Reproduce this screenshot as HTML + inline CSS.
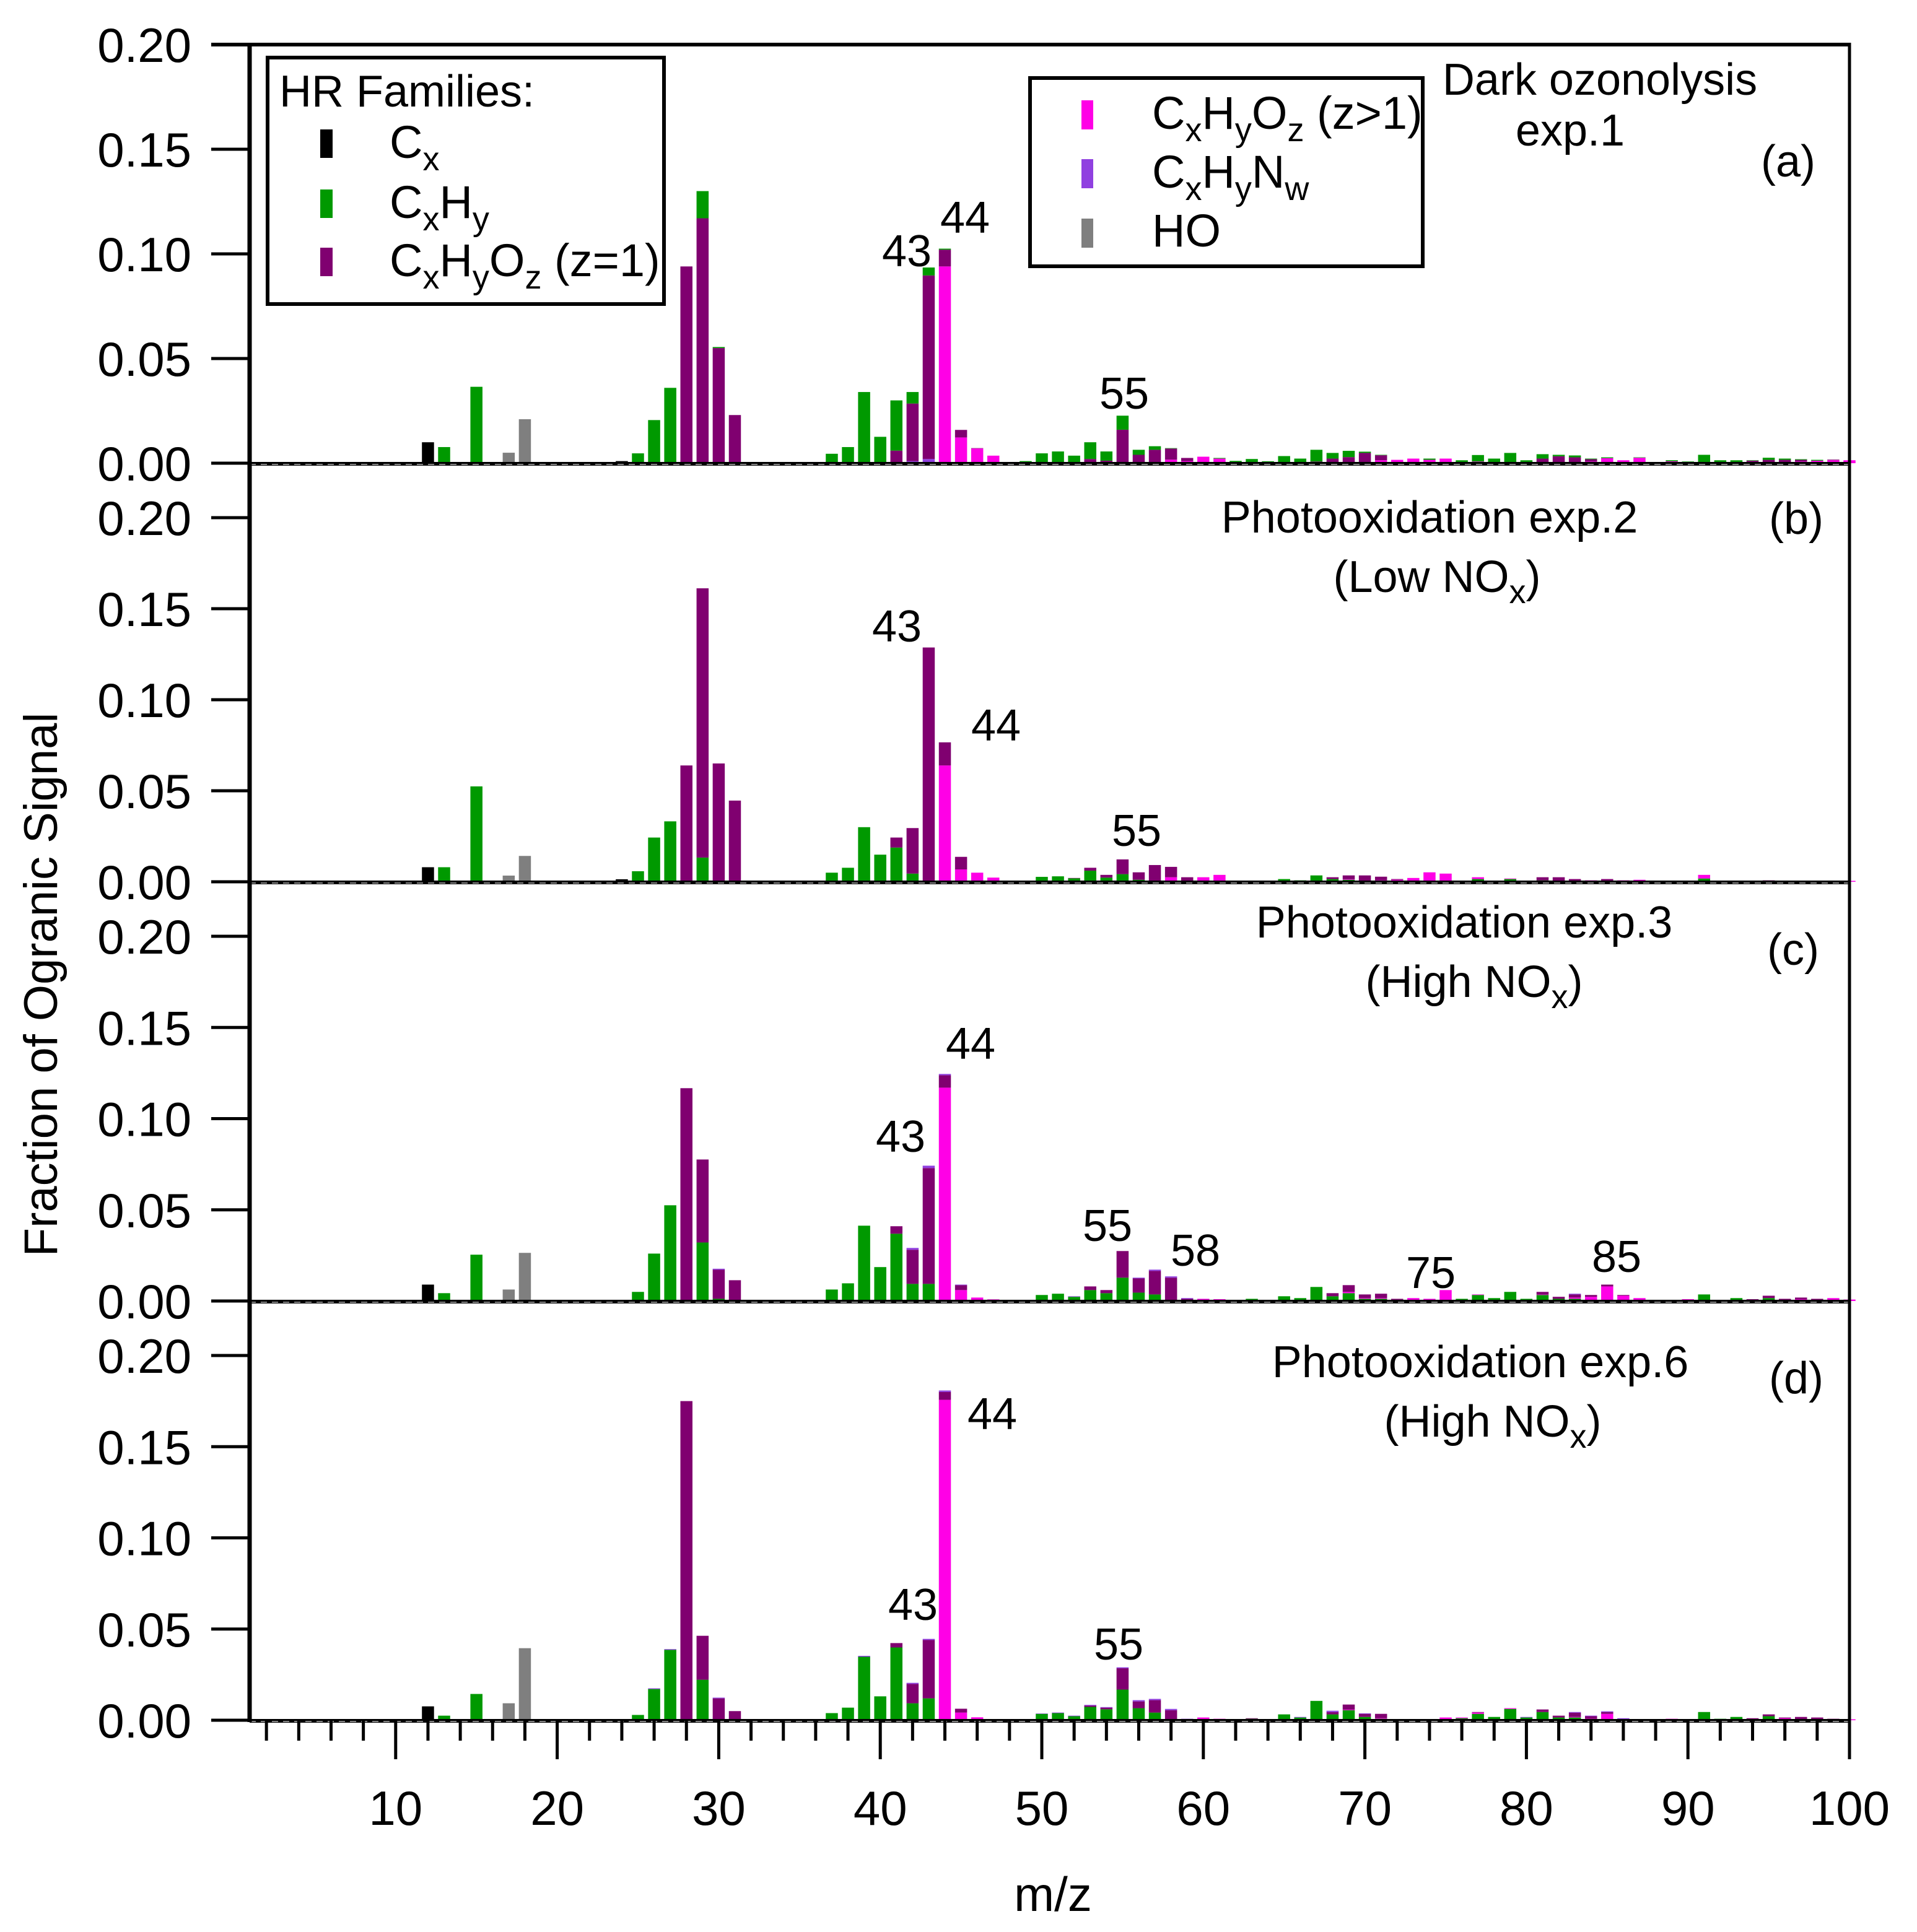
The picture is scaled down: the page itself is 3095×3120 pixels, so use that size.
<!DOCTYPE html>
<html><head><meta charset="utf-8">
<style>
html,body{margin:0;padding:0;background:#fff;}
svg{display:block;}
text{font-family:"Liberation Sans",Arial,sans-serif;fill:#000;}
</style></head>
<body>
<svg id="chart" xmlns="http://www.w3.org/2000/svg" width="3095" height="3120" viewBox="0 0 3095 3120">
<rect width="3095" height="3120" fill="#fff"/>
<g id="bars"></g>
<g id="axes"></g>
<g id="labels"></g>

<text x="0" y="0" font-size="76" text-anchor="middle" transform="translate(92,1590) rotate(-90)">Fraction of Ogranic Signal</text>
<text x="1700" y="3086" font-size="78" text-anchor="middle">m/z</text>

<g>
<rect x="432" y="93" width="640" height="398" fill="#fff" stroke="#000" stroke-width="6"/>
<text x="451" y="172" font-size="72">HR Families:</text>
<rect x="517" y="209" width="20" height="46" fill="#000"/>
<text x="629" y="255" font-size="74">C<tspan font-size="54" dy="20">x</tspan></text>
<rect x="517" y="306" width="20" height="46" fill="#009900"/>
<text x="629" y="352" font-size="74">C<tspan font-size="54" dy="20">x</tspan><tspan dy="-20">H</tspan><tspan font-size="54" dy="20">y</tspan></text>
<rect x="517" y="400" width="20" height="46" fill="#800070"/>
<text x="629" y="446" font-size="74">C<tspan font-size="54" dy="20">x</tspan><tspan dy="-20">H</tspan><tspan font-size="54" dy="20">y</tspan><tspan dy="-20">O</tspan><tspan font-size="54" dy="20">z</tspan><tspan dy="-20"> (z=1)</tspan></text>
</g>

<g>
<rect x="1663" y="126" width="634" height="304" fill="#fff" stroke="#000" stroke-width="6"/>
<rect x="1746" y="162" width="19" height="47" fill="#ff00e6"/>
<text x="1860" y="208" font-size="74">C<tspan font-size="54" dy="20">x</tspan><tspan dy="-20">H</tspan><tspan font-size="54" dy="20">y</tspan><tspan dy="-20">O</tspan><tspan font-size="54" dy="20">z</tspan><tspan dy="-20"> (z&gt;1)</tspan></text>
<rect x="1746" y="257" width="19" height="47" fill="#9040e0"/>
<text x="1860" y="303" font-size="74">C<tspan font-size="54" dy="20">x</tspan><tspan dy="-20">H</tspan><tspan font-size="54" dy="20">y</tspan><tspan dy="-20">N</tspan><tspan font-size="54" dy="20">w</tspan></text>
<rect x="1746" y="353" width="19" height="47" fill="#7f7f7f"/>
<text x="1860" y="398" font-size="74">HO</text>
</g>

<g font-size="72">
<text x="2583" y="153" text-anchor="middle">Dark ozonolysis</text>
<text x="2535" y="235" text-anchor="middle">exp.1</text>
<text x="2887" y="285" text-anchor="middle">(a)</text>
<text x="2308" y="860" text-anchor="middle">Photooxidation exp.2</text>
<text x="2320" y="956" text-anchor="middle">(Low NO<tspan font-size="54" dy="18">x</tspan><tspan dy="-18">)</tspan></text>
<text x="2900" y="862" text-anchor="middle">(b)</text>
<text x="2364" y="1514" text-anchor="middle">Photooxidation exp.3</text>
<text x="2380" y="1610" text-anchor="middle">(High NO<tspan font-size="54" dy="18">x</tspan><tspan dy="-18">)</tspan></text>
<text x="2895" y="1558" text-anchor="middle">(c)</text>
<text x="2390" y="2224" text-anchor="middle">Photooxidation exp.6</text>
<text x="2410" y="2320" text-anchor="middle">(High NO<tspan font-size="54" dy="18">x</tspan><tspan dy="-18">)</tspan></text>
<text x="2900" y="2250" text-anchor="middle">(d)</text>
</g>

<g font-size="72">
<text x="1464" y="430" text-anchor="middle">43</text>
<text x="1558" y="376" text-anchor="middle">44</text>
<text x="1815" y="660" text-anchor="middle">55</text>
<text x="1448" y="1036" text-anchor="middle">43</text>
<text x="1608" y="1196" text-anchor="middle">44</text>
<text x="1835" y="1366" text-anchor="middle">55</text>
<text x="1567" y="1710" text-anchor="middle">44</text>
<text x="1454" y="1860" text-anchor="middle">43</text>
<text x="1788" y="2004" text-anchor="middle">55</text>
<text x="1930" y="2044" text-anchor="middle">58</text>
<text x="2310" y="2080" text-anchor="middle">75</text>
<text x="2610" y="2054" text-anchor="middle">85</text>
<text x="1602" y="2308" text-anchor="middle">44</text>
<text x="1474" y="2616" text-anchor="middle">43</text>
<text x="1806" y="2680" text-anchor="middle">55</text>
</g>
</svg>

<script>
// ---- data: [m/z, fraction] per HR family per panel ----
const a_Cx = [[12,.010],[24,.001]];
const a_HO = [[17,.005],[18,.021]];
const a_N = [[42,.001],[43,.002],[55,.0005]];
const a_Oz2 = [[44,.094],[45,.0123],[46,.007],[47,.0036],[58,.0017],[59,.001],[60,.0031],[61,.0022],[71,.0014],[72,.0016],[73,.0022],[74,.0016],[75,.0022],[77,.0008],[84,.0008],[85,.0024],[86,.0014],[87,.0026],[89,.0009],[97,.0008],[98,.0012],[99,.0014],[100,.0014]];
const a_Oz1 = [[28,.094],[29,.117],[30,.055],[31,.023],[41,.006],[42,.0275],[43,.0877],[44,.008],[45,.0036],[46,.0002],[53,.002],[54,.0012],[55,.0155],[56,.004],[57,.0064],[58,.0053],[59,.0015],[67,.0008],[68,.0022],[69,.0029],[70,.0049],[71,.0024],[81,.0022],[82,.0033],[83,.0028],[84,.0011],[94,.0012],[95,.0016],[96,.0016],[97,.0008],[99,.0003]];
const a_CH = [[13,.0077],[15,.0365],[25,.0047],[26,.0206],[27,.036],[29,.013],[30,.0005],[37,.0045],[38,.0077],[39,.034],[40,.0126],[41,.024],[42,.0055],[43,.0038],[44,.0005],[49,.001],[50,.0047],[51,.0056],[52,.0036],[53,.008],[54,.0044],[55,.0067],[56,.0024],[57,.0017],[58,.0002],[61,.0003],[62,.0011],[63,.002],[64,.0009],[65,.0034],[66,.0022],[67,.0056],[68,.0027],[69,.003],[70,.0006],[71,.0002],[74,.0006],[76,.0014],[77,.0031],[78,.0022],[79,.0049],[80,.0014],[81,.0021],[82,.0007],[83,.0009],[84,.0003],[85,.0004],[87,.0002],[89,.0005],[90,.0008],[91,.004],[92,.0014],[93,.0014],[94,.0002],[95,.001],[96,.0006],[97,.0003],[98,.0004]];

const b_Cx = [[12,.008],[24,.0014],[36,.0006]];
const b_HO = [[17,.0034],[18,.0142]];
const b_CH = [[13,.008],[15,.0524],[25,.0058],[26,.0243],[27,.0332],[29,.0133],[30,.0005],[37,.005],[38,.0077],[39,.030],[40,.0149],[41,.0188],[42,.0045],[43,.0005],[49,.0003],[50,.0027],[51,.003],[52,.0019],[53,.0061],[54,.0023],[55,.0042],[56,.0011],[57,.0005],[63,.0005],[64,.0003],[65,.0015],[66,.0008],[67,.0035],[68,.0015],[69,.0011],[70,.0005],[76,.0005],[77,.0015],[78,.0003],[79,.0015],[80,.0005],[81,.0008],[82,.0005],[91,.0018],[92,.0005],[93,.0005],[95,.0005]];
const b_Oz2 = [[22,.0003],[23,.0003],[44,.0639],[45,.0068],[46,.005],[47,.0023],[48,.0003],[58,.0025],[59,.0005],[60,.0025],[61,.0038],[62,.0005],[69,.0003],[71,.0008],[72,.0011],[73,.0021],[74,.0052],[75,.0045],[77,.001],[79,.0003],[83,.0005],[84,.0008],[85,.0005],[86,.0008],[87,.0011],[89,.0005],[90,.0003],[91,.002],[97,.0005],[98,.0005],[99,.0005],[100,.0005]];
const b_Oz1 = [[28,.0639],[29,.1479],[30,.0645],[31,.0446],[41,.0055],[42,.025],[43,.1282],[44,.0127],[45,.0069],[48,.0002],[52,.0002],[53,.0016],[54,.0015],[55,.0081],[56,.0041],[57,.0087],[58,.0057],[59,.002],[68,.001],[69,.0021],[70,.003],[71,.002],[72,.0004],[81,.0017],[82,.002],[83,.001],[85,.001],[94,.0005],[95,.0003],[96,.0005]];
const b_N = [];

const c_Cx = [[12,.009],[24,.0006],[36,.0006]];
const c_HO = [[17,.0063],[18,.0264]];
const c_CH = [[13,.0043],[15,.0254],[25,.005],[26,.026],[27,.0525],[29,.0321],[30,.0012],[37,.0063],[38,.0097],[39,.0413],[40,.0186],[41,.0369],[42,.0094],[43,.0094],[44,.0003],[49,.0006],[50,.0033],[51,.004],[52,.0023],[53,.006],[54,.0043],[55,.0128],[56,.0046],[57,.0036],[58,.0005],[62,.0005],[63,.0012],[64,.0005],[65,.0026],[66,.0016],[67,.0077],[68,.0026],[69,.0043],[70,.0012],[71,.0012],[73,.0005],[76,.0012],[77,.0033],[78,.0016],[79,.005],[80,.0012],[81,.0033],[82,.0012],[83,.0012],[91,.0036],[92,.0006],[93,.0016],[94,.0005],[95,.0016],[97,.0003]];
const c_Oz2 = [[22,.0003],[44,.1167],[45,.006],[46,.0019],[47,.0009],[59,.0003],[60,.0012],[61,.001],[69,.0007],[70,.0004],[71,.0004],[72,.0007],[73,.0011],[74,.0012],[75,.006],[77,.0003],[81,.0002],[83,.0007],[84,.0023],[85,.008],[86,.0029],[87,.0016],[88,.0003],[90,.001],[96,.0005],[97,.0007],[99,.0016],[100,.0008]];
const c_Oz1 = [[28,.1167],[29,.0455],[30,.016],[31,.0114],[41,.0041],[42,.0187],[43,.0635],[44,.0068],[45,.0027],[53,.002],[54,.0017],[55,.0146],[56,.0078],[57,.0129],[58,.0123],[59,.0009],[68,.0017],[69,.0037],[70,.002],[71,.0024],[72,.0005],[81,.0015],[82,.0011],[83,.0017],[84,.001],[85,.001],[86,.0004],[89,.0006],[94,.0005],[95,.0013],[96,.0007],[97,.0009],[98,.0012]];
const c_N = [[30,.0005],[42,.001],[43,.0013],[44,.0007],[45,.0003],[52,.0003],[56,.0004],[57,.0007],[58,.0007],[59,.0004],[83,.0004]];

const d_Cx = [[12,.0076]];
const d_HO = [[17,.0093],[18,.0395]];
const d_CH = [[13,.0025],[15,.0144],[25,.0029],[26,.0171],[27,.0386],[29,.0222],[30,.0006],[37,.0039],[38,.0069],[39,.0348],[40,.0131],[41,.0399],[42,.0093],[43,.012],[44,.0004],[49,.0006],[50,.0035],[51,.0039],[52,.0022],[53,.0073],[54,.006],[55,.0168],[56,.0066],[57,.0042],[61,.0002],[63,.0008],[64,.0003],[65,.0032],[66,.0015],[67,.0106],[68,.0032],[69,.0055],[70,.0018],[71,.0008],[74,.0005],[76,.0011],[77,.0035],[78,.0018],[79,.0062],[80,.0015],[81,.0045],[82,.0015],[83,.0015],[88,.0003],[89,.0003],[90,.0005],[91,.0045],[92,.0008],[93,.0018],[94,.0005],[95,.0022],[96,.0003],[97,.0003],[98,.0003]];
const d_Oz2 = [[22,.0004],[44,.1753],[45,.0042],[46,.0016],[47,.0004],[58,.0002],[60,.0015],[61,.0006],[62,.0005],[69,.0003],[71,.0003],[72,.0005],[73,.0005],[75,.0015],[76,.0004],[77,.0007],[79,.0004],[83,.0003],[84,.0008],[85,.0035],[86,.0005],[87,.0005],[89,.0005],[96,.0008],[98,.0004],[99,.0003],[100,.0005]];
const d_Oz1 = [[28,.175],[29,.0241],[30,.0114],[31,.005],[41,.0024],[42,.0106],[43,.032],[44,.0043],[45,.0021],[53,.0007],[54,.0009],[55,.0117],[56,.0037],[57,.0068],[58,.0053],[59,.0005],[63,.0003],[68,.0013],[69,.0028],[70,.0017],[71,.0024],[77,.0003],[81,.0014],[82,.001],[83,.0023],[84,.0014],[85,.001],[94,.0006],[95,.001],[96,.0004],[97,.0015],[98,.0008],[99,.0005]];
const d_N = [[26,.0004],[27,.0004],[30,.0004],[39,.0005],[42,.0006],[43,.0006],[44,.0008],[50,.0002],[51,.0003],[52,.0003],[53,.0004],[54,.0003],[55,.0005],[56,.0007],[57,.0007],[58,.0007],[59,.0003],[66,.0003],[68,.0007],[70,.0003],[80,.0003],[83,.0004],[84,.0003],[85,.0004],[86,.0006]];

const yTickValues = [0, 0.05, 0.10, 0.15, 0.20];
const yTickLabels = ["0.00","0.05","0.10","0.15","0.20"];
const xMajorTicks = [10,20,30,40,50,60,70,80,90,100];
const xTickLabels = ["10","20","30","40","50","60","70","80","90","100"];

const COL = {Cx:"#000000",HO:"#7f7f7f",CH:"#009900",Oz1:"#800070",Oz2:"#ff00e6",N:"#9040e0"};
const panels = [
  {id:"a", y0:748, k:3380, top:72,
   stack:[["N",a_N],["Oz2",a_Oz2],["Oz1",a_Oz1],["CH",a_CH]], solo:[["Cx",a_Cx],["HO",a_HO]]},
  {id:"b", y0:1424, k:2940, top:748,
   stack:[["CH",b_CH],["Oz2",b_Oz2],["Oz1",b_Oz1],["N",b_N]], solo:[["Cx",b_Cx],["HO",b_HO]]},
  {id:"c", y0:2101, k:2945, top:1424,
   stack:[["CH",c_CH],["Oz2",c_Oz2],["Oz1",c_Oz1],["N",c_N]], solo:[["Cx",c_Cx],["HO",c_HO]]},
  {id:"d", y0:2778, k:2945, top:2101,
   stack:[["CH",d_CH],["Oz2",d_Oz2],["Oz1",d_Oz1],["N",d_N]], solo:[["Cx",d_Cx],["HO",d_HO]]}
];

const NS = "http://www.w3.org/2000/svg";
const X0 = 403, X1 = 2986;
function xScale(m){ return 378 + 26.08*m; }
function yScale(p, v){ return p.y0 - v*p.k; }
const BW = 19.5;
const barsG = document.getElementById("bars");
const axesG = document.getElementById("axes");
const labG = document.getElementById("labels");
function mk(tag, attrs, parent){ const e=document.createElementNS(NS,tag); for(const k in attrs) e.setAttribute(k,attrs[k]); parent.appendChild(e); return e; }

panels.forEach(p => {
  const cum = {};
  p.stack.forEach(([fam, arr]) => {
    arr.forEach(([m, v]) => {
      const base = cum[m] || 0;
      const r = mk("rect", {x:xScale(m)-BW/2, y:yScale(p, base+v), width:BW, height:Math.max(v*p.k,0.5), fill:COL[fam]}, barsG);
      
      
      cum[m] = base + v;
    });
  });
  p.solo.forEach(([fam, arr]) => {
    arr.forEach(([m, v]) => {
      const r = mk("rect", {x:xScale(m)-BW/2, y:yScale(p, v), width:BW, height:Math.max(v*p.k,0.5), fill:COL[fam]}, barsG);
      
      
    });
  });
  // baseline
  const bl = mk("line", {x1:X0, x2:X1, y1:p.y0+1, y2:p.y0+1, stroke:"#000", "stroke-width":6}, axesG);
  
  
  const dl = mk("line", {x1:X0, x2:X1, y1:p.y0+2, y2:p.y0+2, stroke:"#888", "stroke-width":2, "stroke-dasharray":"10 8"}, axesG);
  
  
  yTickValues.forEach((v, i) => {
    const y = yScale(p, v);
    const t = mk("line", {x1:341, x2:403, y1:y, y2:y, stroke:"#000", "stroke-width":5}, axesG);
    
    
    const tx = mk("text", {x:309, y:y+28, "font-size":78, "text-anchor":"end"}, labG);
    tx.textContent = yTickLabels[i];
    
    
  });
});

// frame
const topL = mk("line", {x1:341, x2:X1+2, y1:72, y2:72, stroke:"#000", "stroke-width":6}, axesG);


const leftL = mk("line", {x1:X0, x2:X0, y1:69, y2:2781, stroke:"#000", "stroke-width":7}, axesG);


const rightL = mk("line", {x1:X1, x2:X1, y1:69, y2:2841, stroke:"#000", "stroke-width":5}, axesG);



// x ticks
for (let m = 2; m <= 100; m += 2) {
  const major = (m % 10 === 0);
  const t = mk("line", {x1:xScale(m), x2:xScale(m), y1:2778, y2: major ? 2841 : 2811, stroke:"#000", "stroke-width":5}, axesG);
  
  
}
xMajorTicks.forEach((m, i) => {
  const tx = mk("text", {x:xScale(m), y:2947, "font-size":78, "text-anchor":"middle"}, labG);
  tx.textContent = xTickLabels[i];
  
  
});
</script>
</body></html>
